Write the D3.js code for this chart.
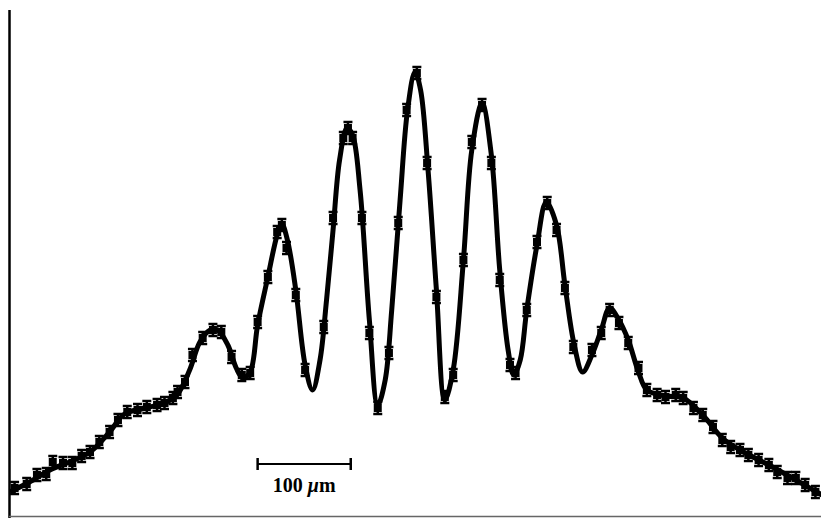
<!DOCTYPE html>
<html>
<head>
<meta charset="utf-8">
<script src="https://cdn.jsdelivr.net/npm/d3@7"></script>
<style>
  body { margin: 0; background: #fff; }
  svg { display: block; }
</style>
</head>
<body>
<svg id="chart" width="821" height="518"></svg>
<script>
// positions in micrometres, intensity in arbitrary units
var dataX = [-430,-417,-406,-396,-389,-378,-368,-358,-349,-339,-328,-319,-309,-298,-288,-277,-269,-260,-255,-247,
  -239,-228,-217,-208,-197,-186,-177,-169,-158,-148,-143,-138,-128,-118,-98,-88,-77,-72,-67,-57,-49,-40,-28,-18,-9,2,
  13,23,32,41,52,61,72,82,91,102,108,120,131,142,152,161,170,190,200,209,219,229,240,249,260,269,280,288,299,309,
  320,330,339,349,358,369,380,389,400,409,419,430];
var dataY = [28,32,41,42,54,53,53,60,64,74,84,96,104,106,109,111,113,118,124,134,
  161,178,186,184,159,141,143,194,239,284,291,268,221,146,189,298,378,388,378,298,183,108,163,293,406,443,
  353,219,119,141,256,374,411,353,236,151,143,206,274,313,286,228,169,166,183,206,193,173,148,126,121,119,121,118,108,101,
  89,76,69,66,61,56,51,44,38,38,31,24];
var errBar = 6;

// fitted curve
var fitX = [-435,-414,-392,-371,-349,-328,-312,-290,-269,-255,-242,-231,-220,-212,-201,-192,-185,-177,-169,-158,-148,-143,
  -137,-128,-118,-110,-102,-95,-88,-81,-73,-67,-59,-49,-40,-32,-25,-16,-8,0,6,14,23,32,41,52,61,72,82,91,100,106,113,
  120,131,141,152,161,171,180,190,200,209,219,229,240,249,269,288,309,330,349,380,409,437];
var fitY = [24,34,46,54,64,84,102,108,113,122,146,174,186,186,171,148,138,144,191,239,281,292,
  276,226,151,126,156,216,286,356,388,381,326,196,111,136,206,316,406,444,426,346,226,116,146,256,366,413,361,246,166,141,156,
  206,271,314,291,231,171,144,161,186,208,196,176,144,126,120,118,101,78,66,51,36,21];

var scaleBar = [-169, -69];

var svg = d3.select("#chart");

var x = d3.scaleLinear().domain([-436, 436]).range([9, 821]);
var y = d3.scaleLinear().domain([0, 450]).range([516, 66]);

// axes frame
svg.append("line")
  .attr("x1", 9.5).attr("x2", 9.5)
  .attr("y1", 10).attr("y2", 518)
  .attr("stroke", "#000").attr("stroke-width", 2.5);

svg.append("line")
  .attr("x1", 9).attr("x2", 821)
  .attr("y1", 516.5).attr("y2", 516.5)
  .attr("stroke", "#666").attr("stroke-width", 1.5);

var fit = fitX.map(function(d, i) { return [d, fitY[i]]; });

var line = d3.line()
  .x(function(d) { return x(d[0]); })
  .y(function(d) { return y(d[1]); })
  .curve(d3.curveCatmullRom.alpha(0.5));

svg.append("path")
  .datum(fit)
  .attr("fill", "none")
  .attr("stroke", "#000")
  .attr("stroke-width", 5)
  .attr("stroke-linejoin", "round")
  .attr("d", line);

var pts = dataX.map(function(d, i) { return {x: d, y: dataY[i]}; });

var g = svg.append("g").selectAll("g")
  .data(pts)
  .enter().append("g")
  .attr("transform", function(d) { return "translate(" + x(d.x) + "," + y(d.y) + ")"; });

g.append("line")
  .attr("y1", -errBar).attr("y2", errBar)
  .attr("stroke", "#000").attr("stroke-width", 2.5);
g.append("line")
  .attr("x1", -4.5).attr("x2", 4.5)
  .attr("y1", -errBar).attr("y2", -errBar)
  .attr("stroke", "#000").attr("stroke-width", 2.5);
g.append("line")
  .attr("x1", -4.5).attr("x2", 4.5)
  .attr("y1", errBar).attr("y2", errBar)
  .attr("stroke", "#000").attr("stroke-width", 2.5);
g.append("rect")
  .attr("x", -4).attr("y", -4)
  .attr("width", 8).attr("height", 8)
  .attr("fill", "#000");

// scale bar
var sb = svg.append("g");
sb.append("line")
  .attr("x1", x(scaleBar[0])).attr("x2", x(scaleBar[1]))
  .attr("y1", 464).attr("y2", 464)
  .attr("stroke", "#000").attr("stroke-width", 2);
sb.selectAll(".cap")
  .data(scaleBar)
  .enter().append("line")
  .attr("x1", function(d) { return x(d); }).attr("x2", function(d) { return x(d); })
  .attr("y1", 458).attr("y2", 470)
  .attr("stroke", "#000").attr("stroke-width", 2.5);

var label = sb.append("text")
  .attr("x", x((scaleBar[0] + scaleBar[1]) / 2))
  .attr("y", 492)
  .attr("text-anchor", "middle")
  .style("font-family", "'Liberation Serif', 'DejaVu Serif', serif")
  .style("font-size", "20px")
  .style("font-weight", "bold");
label.append("tspan").text("100 ");
label.append("tspan").style("font-style", "italic").text("\u03bc");
label.append("tspan").text("m");
</script>
</body>
</html>
